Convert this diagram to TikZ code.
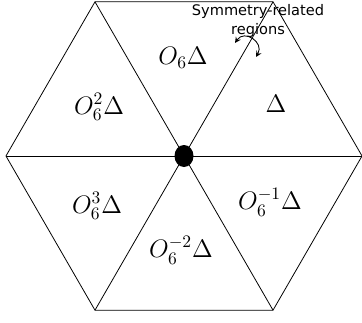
\documentclass[tikz,border=0pt]{standalone}
\usepackage{amsmath,amssymb}
\usepackage{fontspec}
\newfontfamily\notefont{DejaVu Sans}
\usetikzlibrary{arrows}

\begin{document}
\begin{tikzpicture}[scale=0.02,>=stealth,
  region/.style={font=\Large},
  note/.style={font=\notefont\fontsize{8.3}{11}\selectfont, align=center, inner sep=0pt}]
\useasboundingbox (-184,-166) rectangle (178,156);
\coordinate (c) at (0,0);
\foreach \a in {0,60,...,300} \coordinate (v\a) at (\a:178);
\draw[line width=0.45pt] (v0) -- (v60) -- (v120) -- (v180) -- (v240) -- (v300) -- cycle;
\foreach \a in {0,60,...,300} \draw[line width=0.45pt] (c) -- (v\a);
\fill (c) ellipse (9.5 and 11);
% one label per triangle
\node[region] (d0) at (92,52) {$\Delta$};
\node[region] (d1) at (-1,98) {$O_6\Delta$};
\node[region] (d2) at (-85,49) {$O_6^2\Delta$};
\node[region] (d3) at (-87,-50) {$O_6^3\Delta$};
\node[region] (d4) at (-3,-94) {$O_6^{-2}\Delta$};
\node[region] (d5) at (86,-46) {$O_6^{-1}\Delta$};
\node[note] (sym) at (74,135) {Symmetry-related\\regions};
\coordinate (s1) at (51,113);
\coordinate (s2) at (72,99);
\draw[<->, line width=0.5pt] (s1) to[out=56,in=60,looseness=1.7] (s2);
\end{tikzpicture}
\end{document}
